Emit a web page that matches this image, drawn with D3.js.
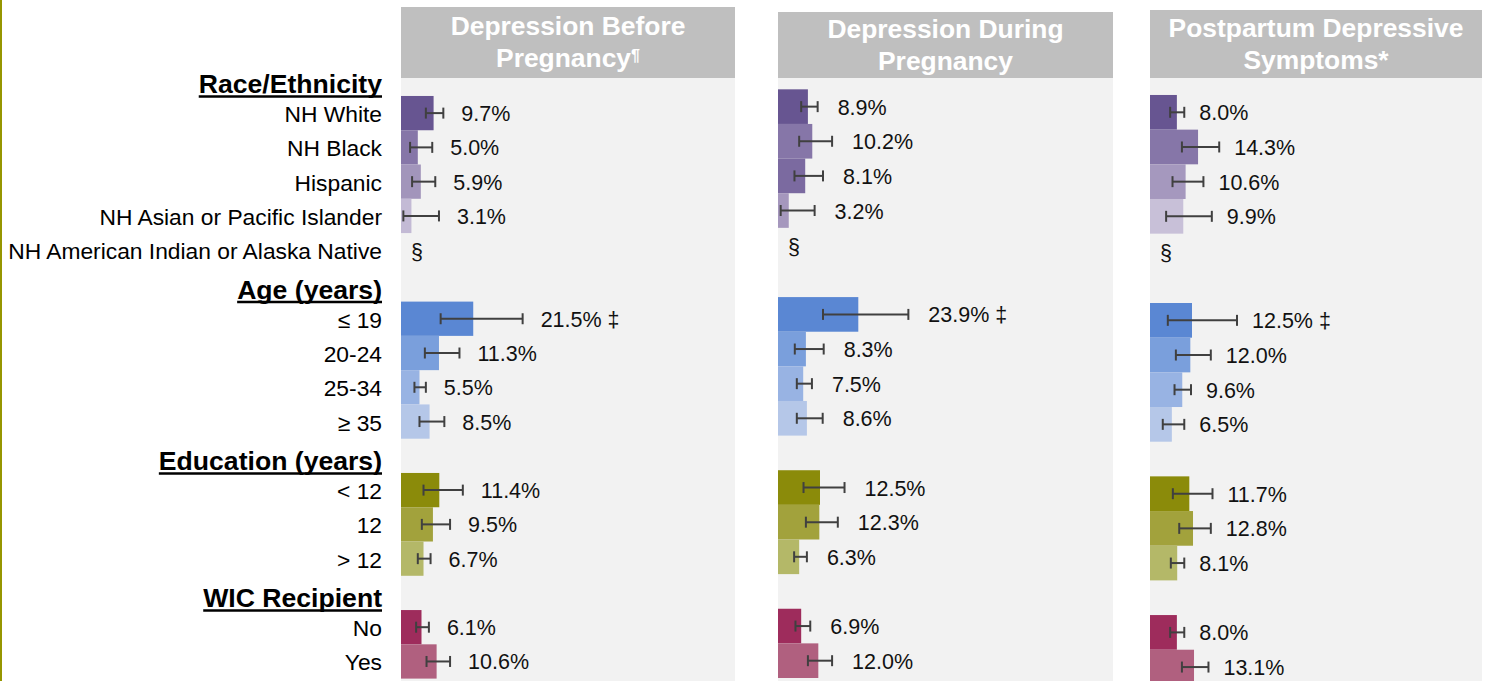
<!DOCTYPE html>
<html>
<head>
<meta charset="utf-8">
<script src="https://cdn.jsdelivr.net/npm/d3@7"></script>
<style>
  body { margin: 0; background: #ffffff; }
  svg { display: block; font-family: "Liberation Sans", Arial, sans-serif; }
</style>
</head>
<body>
<svg id="chart" width="1486" height="681"></svg>
<script>
// ---- Data ---------------------------------------------------------------
const groups = ["Race/Ethnicity", "Age (years)", "Education (years)", "WIC Recipient"];

const categories = [
  "NH White", "NH Black", "Hispanic", "NH Asian or Pacific Islander",
  "NH American Indian or Alaska Native",
  "≤ 19", "20-24", "25-34", "≥ 35",
  "< 12", "12", "> 12",
  "No", "Yes"
];
const categoryGroup = [0, 0, 0, 0, 0, 1, 1, 1, 1, 2, 2, 2, 3, 3];

const panelTitles = [
  ["Depression Before", "Pregnancy", "¶"],
  ["Depression During", "Pregnancy", ""],
  ["Postpartum Depressive", "Symptoms*", ""]
];

// Prevalence (%) with 95% confidence limits; null = estimate suppressed (§)
const beforeEst = [9.7, 5.0, 5.9, 3.1, null, 21.5, 11.3, 5.5, 8.5, 11.4, 9.5, 6.7, 6.1, 10.6];
const beforeLow = [7.4, 2.7, 3.3, 0.7, null, 11.8, 7.1, 4.0, 5.5, 6.7, 6.2, 5.0, 4.5, 7.6];
const beforeHigh = [12.6, 9.3, 10.2, 11.3, null, 36.2, 17.4, 7.4, 12.9, 18.4, 14.6, 8.8, 8.3, 14.6];

const duringEst = [8.9, 10.2, 8.1, 3.2, null, 23.9, 8.3, 7.5, 8.6, 12.5, 12.3, 6.3, 6.9, 12.0];
const duringLow = [6.9, 6.3, 4.9, 0.8, null, 13.4, 5.0, 5.6, 5.6, 7.6, 8.3, 4.8, 5.2, 8.9];
const duringHigh = [11.8, 16.1, 13.4, 10.9, null, 38.8, 13.6, 10.1, 13.3, 19.8, 17.8, 8.6, 9.6, 16.1];

const postpartumEst = [8.0, 14.3, 10.6, 9.9, null, 12.5, 12.0, 9.6, 6.5, 11.7, 12.8, 8.1, 8.0, 13.1];
const postpartumLow = [6.0, 9.5, 6.7, 4.8, null, 5.3, 7.7, 7.3, 3.8, 6.8, 8.7, 6.2, 6.0, 9.5];
const postpartumHigh = [10.2, 20.6, 15.9, 18.4, null, 25.9, 18.1, 12.2, 10.2, 18.6, 18.1, 10.2, 10.2, 17.4];

// Footnote marks attached to individual estimates
const beforeFlags = ["", "", "", "", "", "‡", "", "", "", "", "", "", "", ""];
const duringFlags = ["", "", "", "", "", "‡", "", "", "", "", "", "", "", ""];
const postpartumFlags = ["", "", "", "", "", "‡", "", "", "", "", "", "", "", ""];

// ---- Styles -------------------------------------------------------------
const purpleA = ["#675591", "#8676a8", "#a295bb", "#c3bad5", "#c3bad5"];
const purpleB = ["#675591", "#8676a8", "#7b6aa0", "#a597bd", "#a597bd"];
const purpleC = ["#675591", "#8676a8", "#a598be", "#c8c0d8", "#c8c0d8"];
const blues = ["#5a87d3", "#7a9fdc", "#98b3e3", "#b5c7e8"];
const olives = ["#8b8b0a", "#a2a23c", "#b4b868"];
const berries = ["#9e2c5c", "#b0607f"];

const panelColors = [
  [...purpleA, ...blues, ...olives, ...berries],
  [...purpleB, ...blues, ...olives, ...berries],
  [...purpleC, ...blues, ...olives, ...berries]
];

const panelLayout = [
  { left: 401, width: 334, headTop: 7,  bandTop: 61.7, bandBottom: 678.6, gap: 18 },
  { left: 778, width: 335, headTop: 12, bandTop: 54.7, bandBottom: 678.0, gap: 20 },
  { left: 1150, width: 332, headTop: 10, bandTop: 60.3, bandBottom: 684.4, gap: 15 }
];

const panelData = [
  { est: beforeEst, low: beforeLow, high: beforeHigh, flags: beforeFlags },
  { est: duringEst, low: duringLow, high: duringHigh, flags: duringFlags },
  { est: postpartumEst, low: postpartumLow, high: postpartumHigh, flags: postpartumFlags }
];

// ---- Row keys: each group heading followed by its categories -------------
const rowKeys = [];
groups.forEach((g, gi) => {
  rowKeys.push("h:" + g);
  categories.forEach((c, ci) => { if (categoryGroup[ci] === gi) rowKeys.push("c:" + c); });
});

const svg = d3.select("#chart");
const W = 1486, H = 681;
const headBottom = 78;
const labelRight = 382;

// Olive rule along the left edge
svg.append("rect").attr("x", 0).attr("y", 0).attr("width", 2).attr("height", H).attr("fill", "#969600");

panelLayout.forEach((L, pi) => {
  const g = svg.append("g");
  const x = d3.scaleLinear().domain([0, 100]).range([L.left, L.left + 336]);
  const y = d3.scaleBand().domain(rowKeys).range([L.bandTop, L.bandBottom]).padding(0);
  const D = panelData[pi];
  const colors = panelColors[pi];

  // Title box and plotting area
  g.append("rect").attr("x", L.left).attr("y", L.headTop)
    .attr("width", L.width).attr("height", headBottom - L.headTop).attr("fill", "#bfbfbf");
  g.append("rect").attr("x", L.left).attr("y", headBottom)
    .attr("width", L.width).attr("height", H - headBottom).attr("fill", "#f2f2f2");

  const cx = L.left + L.width / 2;
  const cy = (L.headTop + headBottom) / 2;
  const t = panelTitles[pi];
  g.append("text").attr("x", cx).attr("y", cy - 7.5).attr("text-anchor", "middle")
    .attr("font-size", 26.4).attr("font-weight", "bold").attr("fill", "#ffffff").text(t[0]);
  const line2 = g.append("text").attr("x", cx).attr("y", cy + 24.5).attr("text-anchor", "middle")
    .attr("font-size", 26.4).attr("font-weight", "bold").attr("fill", "#ffffff");
  line2.append("tspan").text(t[1]);
  if (t[2]) line2.append("tspan").attr("font-size", 16).attr("dy", -6).text(t[2]);

  const items = categories.map((c, i) => ({
    key: "c:" + c, est: D.est[i], low: D.low[i], high: D.high[i], flag: D.flags[i], color: colors[i]
  }));
  const shown = items.filter(d => d.est !== null);

  // Bars
  g.selectAll("rect.bar").data(shown).join("rect").attr("class", "bar")
    .attr("x", x(0)).attr("y", d => y(d.key))
    .attr("width", d => x(d.est) - x(0)).attr("height", y.bandwidth())
    .attr("fill", d => d.color);

  // Confidence intervals
  const ci = g.selectAll("g.ci").data(shown).join("g").attr("class", "ci")
    .attr("stroke", "#404040").attr("stroke-width", 2);
  ci.append("line").attr("x1", d => x(d.low)).attr("x2", d => x(d.high))
    .attr("y1", d => y(d.key) + y.bandwidth() / 2).attr("y2", d => y(d.key) + y.bandwidth() / 2);
  ci.append("line").attr("x1", d => x(d.low)).attr("x2", d => x(d.low))
    .attr("y1", d => y(d.key) + y.bandwidth() / 2 - 5.5).attr("y2", d => y(d.key) + y.bandwidth() / 2 + 5.5);
  ci.append("line").attr("x1", d => x(d.high)).attr("x2", d => x(d.high))
    .attr("y1", d => y(d.key) + y.bandwidth() / 2 - 5.5).attr("y2", d => y(d.key) + y.bandwidth() / 2 + 5.5);

  // Value labels
  g.selectAll("text.val").data(shown).join("text").attr("class", "val")
    .attr("x", d => x(d.high) + L.gap).attr("y", d => y(d.key) + y.bandwidth() / 2 + 1)
    .attr("dominant-baseline", "central").attr("font-size", 21.5).attr("fill", "#111111")
    .text(d => d.est.toFixed(1) + "%" + (d.flag ? " " + d.flag : ""));

  // Suppressed estimates
  g.selectAll("text.sup").data(items.filter(d => d.est === null)).join("text").attr("class", "sup")
    .attr("x", x(0) + 10).attr("y", d => y(d.key) + y.bandwidth() / 2 + 2)
    .attr("dominant-baseline", "central").attr("font-size", 21.5).attr("fill", "#111111")
    .text("§");
});

// Row labels on the left, aligned to the first panel's rows
const yLab = d3.scaleBand().domain(rowKeys)
  .range([panelLayout[0].bandTop, panelLayout[0].bandBottom]).padding(0);
const labG = svg.append("g");
rowKeys.forEach(k => {
  const name = k.slice(2);
  if (k.startsWith("h:")) {
    const base = yLab(k) + yLab.bandwidth() - 3;
    const tx = labG.append("text").attr("x", labelRight).attr("y", base)
      .attr("text-anchor", "end").attr("font-size", 26.6).attr("font-weight", "bold")
      .attr("fill", "#000000").text(name);
    const w = tx.node().getComputedTextLength();
    labG.append("line").attr("x1", labelRight - w).attr("x2", labelRight)
      .attr("y1", base + 3.5).attr("y2", base + 3.5)
      .attr("stroke", "#000000").attr("stroke-width", 2.5);
  } else {
    labG.append("text").attr("x", labelRight).attr("y", yLab(k) + yLab.bandwidth() / 2 + 1)
      .attr("text-anchor", "end").attr("dominant-baseline", "central")
      .attr("font-size", 22.8).attr("fill", "#000000").text(name);
  }
});
</script>
</body>
</html>
